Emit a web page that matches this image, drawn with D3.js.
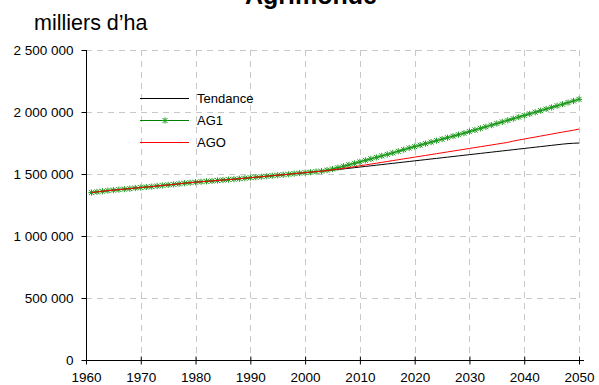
<!DOCTYPE html>
<html><head><meta charset="utf-8">
<script src="https://cdn.jsdelivr.net/npm/d3@7"></script>
<style>body{margin:0;background:#fff}svg{display:block;font-family:"Liberation Sans",Arial,sans-serif}</style>
</head><body>
<script>
const title = "Agrimonde";
const unitLabel = "milliers d’ha";
const startYear = 1961;
const historical = [1350000,1356000,1361000,1366000,1370000,1374000,1378000,1382000,1387000,1391000,
1395000,1398000,1403000,1408000,1412000,1416000,1421000,1426000,1430000,1434000,
1438000,1441000,1444000,1448000,1451000,1455000,1458000,1462000,1466000,1470000,
1474000,1478000,1482000,1486000,1490000,1494000,1498000,1503000,1507000,1511000,
1515000,1519000,1523000];
const tendanceProj = [1527000,1531000,1536000,1541000,1546000,1551000,1556000,1561000,1566000,1571000,
1576000,1581000,1586000,1591000,1596000,1601000,1606000,1611000,1616000,1621000,
1626000,1631000,1636000,1641000,1646000,1651000,1656000,1661000,1666000,1671000,
1676000,1681000,1686000,1691000,1696000,1701000,1706000,1711000,1716000,1721000,
1726000,1731000,1736000,1741000,1745000,1748000,1750000];
const ag1Proj = [1531000,1540000,1551000,1562000,1574000,1586000,1598000,1610000,1622000,1634000,
1646000,1658000,1670000,1683000,1696000,1709000,1721000,1733000,1745000,1757000,
1769000,1781000,1793000,1805000,1817000,1829000,1842000,1855000,1868000,1881000,
1894000,1907000,1920000,1933000,1946000,1959000,1972000,1985000,1998000,2011000,
2024000,2037000,2050000,2063000,2076000,2089000,2102000];
const agoProj = [1528000,1534000,1540000,1546000,1552000,1559000,1566000,1573000,1580000,1587000,
1594000,1601000,1608000,1615000,1622000,1629000,1636000,1643000,1650000,1657000,
1664000,1671000,1678000,1685000,1692000,1699000,1706000,1713000,1720000,1727000,
1734000,1741000,1748000,1755000,1766000,1774000,1782000,1790000,1798000,1806000,
1814000,1822000,1830000,1838000,1846000,1853000,1862000];
const xTicks = [1960,1970,1980,1990,2000,2010,2020,2030,2040,2050];
const yTicks = [0,500000,1000000,1500000,2000000,2500000];
const seriesNames = ["Tendance","AG1","AGO"];
const seriesColors = ["#000000","#008000","#ff0000"];

const W=599,H=385;
const svg=d3.select("body").append("svg").attr("width",W).attr("height",H);
const x=d3.scaleLinear().domain([1960,2050]).range([86,579]);
const y=d3.scaleLinear().domain([0,2500000]).range([360,50]);
const fmt=v=>d3.format(",")(v).replace(/,/g," ");

// grid
svg.append("g").selectAll("line").data(yTicks.slice(1)).join("line")
 .attr("x1",86).attr("x2",579).attr("y1",d=>y(d)+0.5).attr("y2",d=>y(d)+0.5)
 .attr("stroke","#c8c8c8").attr("stroke-dasharray","6,5");
svg.append("g").selectAll("line").data(xTicks.slice(1)).join("line")
 .attr("x1",d=>Math.round(x(d))+0.5).attr("x2",d=>Math.round(x(d))+0.5).attr("y1",50).attr("y2",360)
 .attr("stroke","#c8c8c8").attr("stroke-dasharray","6,5");

// axes
const yAxis=svg.append("g").attr("transform","translate(86.5,0)")
 .call(d3.axisLeft(y).tickValues(yTicks).tickFormat(fmt).tickSize(5).tickPadding(8));
yAxis.select(".domain").attr("d","M0,50V360");
const xAxis=svg.append("g").attr("transform","translate(0,360.5)")
 .call(d3.axisBottom(x).tickValues(xTicks).tickFormat(d3.format("d")).tickSize(4));
xAxis.select(".domain").attr("d","M82,0H584");
xAxis.selectAll(".tick line").attr("y1",-4).attr("y2",4);
svg.selectAll(".tick text").attr("font-size",13.5).attr("fill","#000").attr("font-family","Liberation Sans, Arial, sans-serif");
xAxis.selectAll(".tick text").attr("y",21.5).attr("dy",0);
svg.selectAll(".domain,.tick line").attr("stroke","#000");

// series
const years=d3.range(startYear,2051);
const full=[historical.concat(tendanceProj),historical.concat(ag1Proj),historical.concat(agoProj)];
const line=d3.line().x((d,i)=>x(years[i])).y(d=>y(d));
const star=(cx,cy,r)=>`M${cx-r},${cy-r}L${cx+r},${cy+r}M${cx-r},${cy+r}L${cx+r},${cy-r}M${cx},${cy-r-0.6}V${cy+r+0.6}M${cx-r-0.6},${cy}H${cx+r+0.6}`;
[0,1,2].forEach(k=>{
  svg.append("path").datum(full[k]).attr("d",line).attr("fill","none")
   .attr("stroke",seriesColors[k]).attr("stroke-width",1);
  if(k===1){
    svg.append("g").selectAll("path").data(full[k]).join("path")
     .attr("d",(v,i)=>star(x(years[i]),y(v),2.5))
     .attr("stroke","#1a9a1a").attr("stroke-width",1).attr("fill","none");
  }
});

// legend
const leg=svg.append("g");
const ly=[98,120,142];
seriesNames.forEach((n,i)=>{
  leg.append("line").attr("x1",140).attr("x2",189).attr("y1",ly[i]+0.5).attr("y2",ly[i]+0.5).attr("stroke",seriesColors[i]);
  if(i===1) leg.append("path").attr("d",star(165,ly[i]+0.5,2.5)).attr("stroke","#1a9a1a").attr("fill","none");
  leg.append("text").attr("x",197).attr("y",ly[i]+4.5).attr("font-size",13).text(n);
});

svg.append("text").attr("x",311).attr("y",4).attr("text-anchor","middle").attr("font-size",25).attr("font-weight","bold").text(title);
svg.append("text").attr("x",34).attr("y",30).attr("font-size",21.5).text(unitLabel);
</script>
</body></html>
